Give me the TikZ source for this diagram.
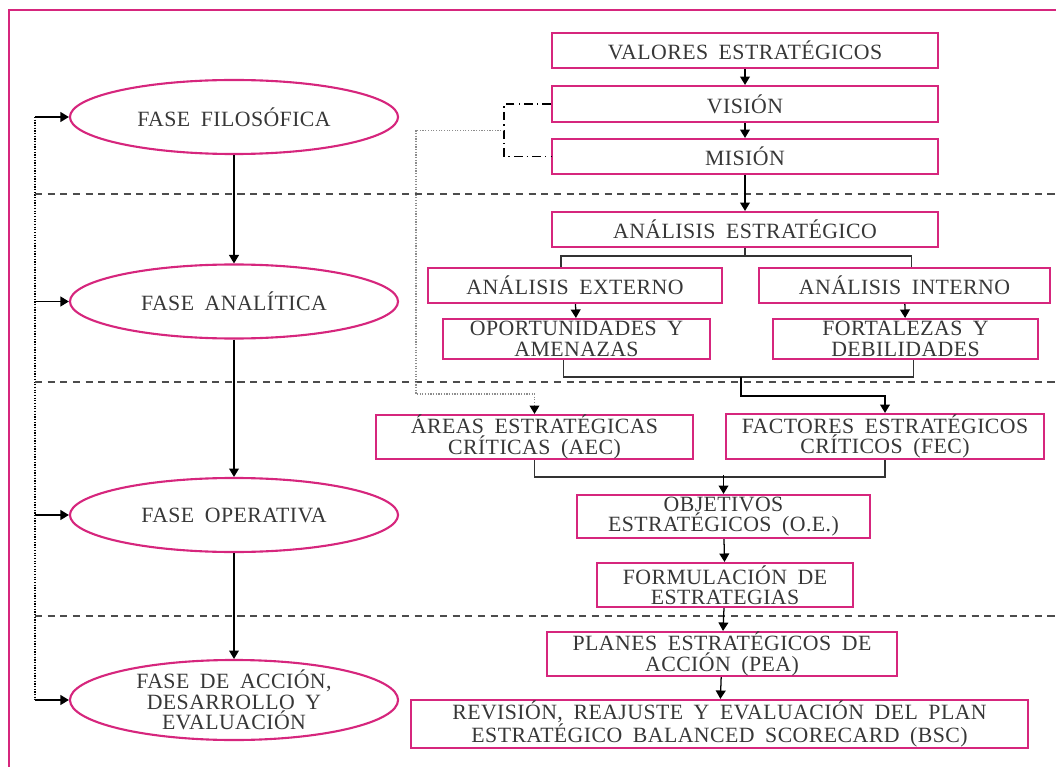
\documentclass[tikz,border=0pt]{standalone}
\usepackage{fontspec}
\setmainfont{Liberation Serif}[LetterSpace=2, WordSpace=1.8]
\usepackage{xcolor}
\usepackage{tikz}
\usetikzlibrary{arrows.meta}
\usetikzlibrary{shapes.geometric}
\usetikzlibrary{calc}

\definecolor{rosa}{RGB}{214,38,125}
\definecolor{texto}{RGB}{55,55,55}

\tikzset{
  every node/.style={text=texto, font=\fontsize{15.5}{14.5}\selectfont},
  caja/.style={draw=rosa, line width=1.5pt, align=center, inner sep=0pt},
  fase/.style={ellipse, draw=rosa, line width=1.5pt, align=center, inner sep=0pt,
    minimum width=8.2cm, minimum height=1.85cm},
  flecha/.style={-{Triangle[length=6pt,width=7pt,color=black]}, line width=0.9pt},
  linea/.style={line width=0.9pt, draw=black!80},
  separador/.style={line width=0.8pt, draw=black!70, dash pattern=on 5pt off 4pt},
}

\begin{document}
\begin{tikzpicture}[x=0.025cm, y=-0.025cm]
  \useasboundingbox (0,0) rectangle (1056,767);
  \clip (0,0) rectangle (1056,767);
  \draw[rosa, line width=1.5pt] (9,10) rectangle (1100,800);

  % fases
  \node[fase] (filosofica) at (234,117) {FASE FILOSÓFICA};
  \node[fase] (analitica) at (234,301.5) {FASE ANALÍTICA};
  \node[fase] (operativa) at (234,515) {FASE OPERATIVA};
  \node[fase, minimum height=2cm, inner ysep=-6pt] (accion) at (234,700) {FASE DE ACCIÓN,\\DESARROLLO Y\\EVALUACIÓN};

  \draw[flecha] (filosofica) -- (analitica);
  \draw[flecha] (analitica) -- (operativa);
  \draw[flecha] (operativa) -- (accion);

  \coordinate (riel) at (35,0);
  \draw[densely dotted, line width=0.9pt] (filosofica.west -| riel) -- (accion.west -| riel);
  \foreach \f in {filosofica, analitica, operativa, accion}
    \draw[flecha] (\f.west -| riel) -- (\f.west);

  \foreach \y in {194, 382, 616}
    \draw[separador] (35,\y) -- (1056,\y);

  % cajas
  \node[caja, minimum width=9.65cm, minimum height=0.875cm] (valores) at (745,50.5) {VALORES ESTRATÉGICOS};
  \node[caja, minimum width=9.65cm, minimum height=0.9cm] (vision) at (745,104) {VISIÓN};
  \node[caja, minimum width=9.65cm, minimum height=0.875cm] (mision) at (745,156.5) {MISIÓN};
  \node[caja, minimum width=9.65cm, minimum height=0.875cm] (analisis) at (745,229.5) {ANÁLISIS ESTRATÉGICO};
  \node[caja, minimum width=7.35cm, minimum height=0.875cm] (externo) at (575,285.5) {ANÁLISIS EXTERNO};
  \node[caja, minimum width=7.275cm, minimum height=0.875cm] (interno) at (904.5,285.5) {ANÁLISIS INTERNO};
  \node[caja, minimum width=6.675cm, minimum height=1cm] (oportunidades) at (576.5,339) {OPORTUNIDADES Y\\AMENAZAS};
  \node[caja, minimum width=6.625cm, minimum height=1cm] (fortalezas) at (905.5,339) {FORTALEZAS Y\\DEBILIDADES};
  \node[caja, minimum width=7.925cm, minimum height=1.1cm] (areas) at (534.5,437) {ÁREAS ESTRATÉGICAS\\CRÍTICAS (AEC)};
  \node[caja, minimum width=7.95cm, minimum height=1.125cm] (factores) at (885,436.5) {FACTORES ESTRATÉGICOS\\CRÍTICOS (FEC)};
  \node[caja, minimum width=7.325cm, minimum height=1.075cm] (objetivos) at (723.5,516.5) {OBJETIVOS\\ESTRATÉGICOS (O.E.)};
  \node[caja, minimum width=6.4cm, minimum height=1.1cm] (formulacion) at (725,585) {FORMULACIÓN DE\\ESTRATEGIAS};
  \node[caja, minimum width=8.75cm, minimum height=1.1cm] (planes) at (722,654) {PLANES ESTRATÉGICOS DE\\ACCIÓN (PEA)};
  \node[caja, minimum width=15.425cm, minimum height=1.2cm] (revision) at (719.5,724) {REVISIÓN, REAJUSTE Y EVALUACIÓN DEL PLAN\\ESTRATÉGICO BALANCED SCORECARD (BSC)};

  \draw[flecha] (valores) -- (vision);
  \draw[flecha] (vision) -- (mision);
  \draw[flecha] (mision) -- (analisis);

  % vision y mision
  \draw[line width=0.9pt, dash pattern=on 6pt off 3pt on 1pt off 3pt] (vision.west) -- ++(-47,0) coordinate (corcheteA) |- (mision.west);
  \coordinate (corchete) at ($(corcheteA)!0.5!(corcheteA |- mision.west)$);
  \draw[flecha, densely dotted, draw=black!45] (corchete) -- ++(-88,0) |- ($(areas.north)+(0,-20)$) -- (areas.north);

  % analisis
  \draw[linea] (analisis.south) -- ++(0,8) coordinate (ramaA);
  \draw[linea] ($(externo.north)+(-14,0)$) |- (ramaA) -| ($(interno.north)+(7,0)$);
  \draw[flecha] (externo) -- (oportunidades);
  \draw[flecha] (interno) -- (fortalezas);

  \draw[linea] ($(oportunidades.south)+(-13,0)$) -- ++(0,17) -| ($(fortalezas.south)+(8,0)$);
  \coordinate (unionB) at ($(oportunidades.south)!0.5!(fortalezas.south)+(0,17)$);
  \draw[flecha] (unionB) -- ++(0,19) -| (factores.north);

  \draw[linea] (areas.south) -- ++(0,17) -| (factores.south);
  \draw[flecha] ($(objetivos.north)+(0,-19)$) -- (objetivos.north);
  \draw[flecha] (objetivos) -- (formulacion);
  \draw[flecha] (formulacion) -- (planes);
  \draw[flecha] (planes) -- (revision);
\end{tikzpicture}
\end{document}
